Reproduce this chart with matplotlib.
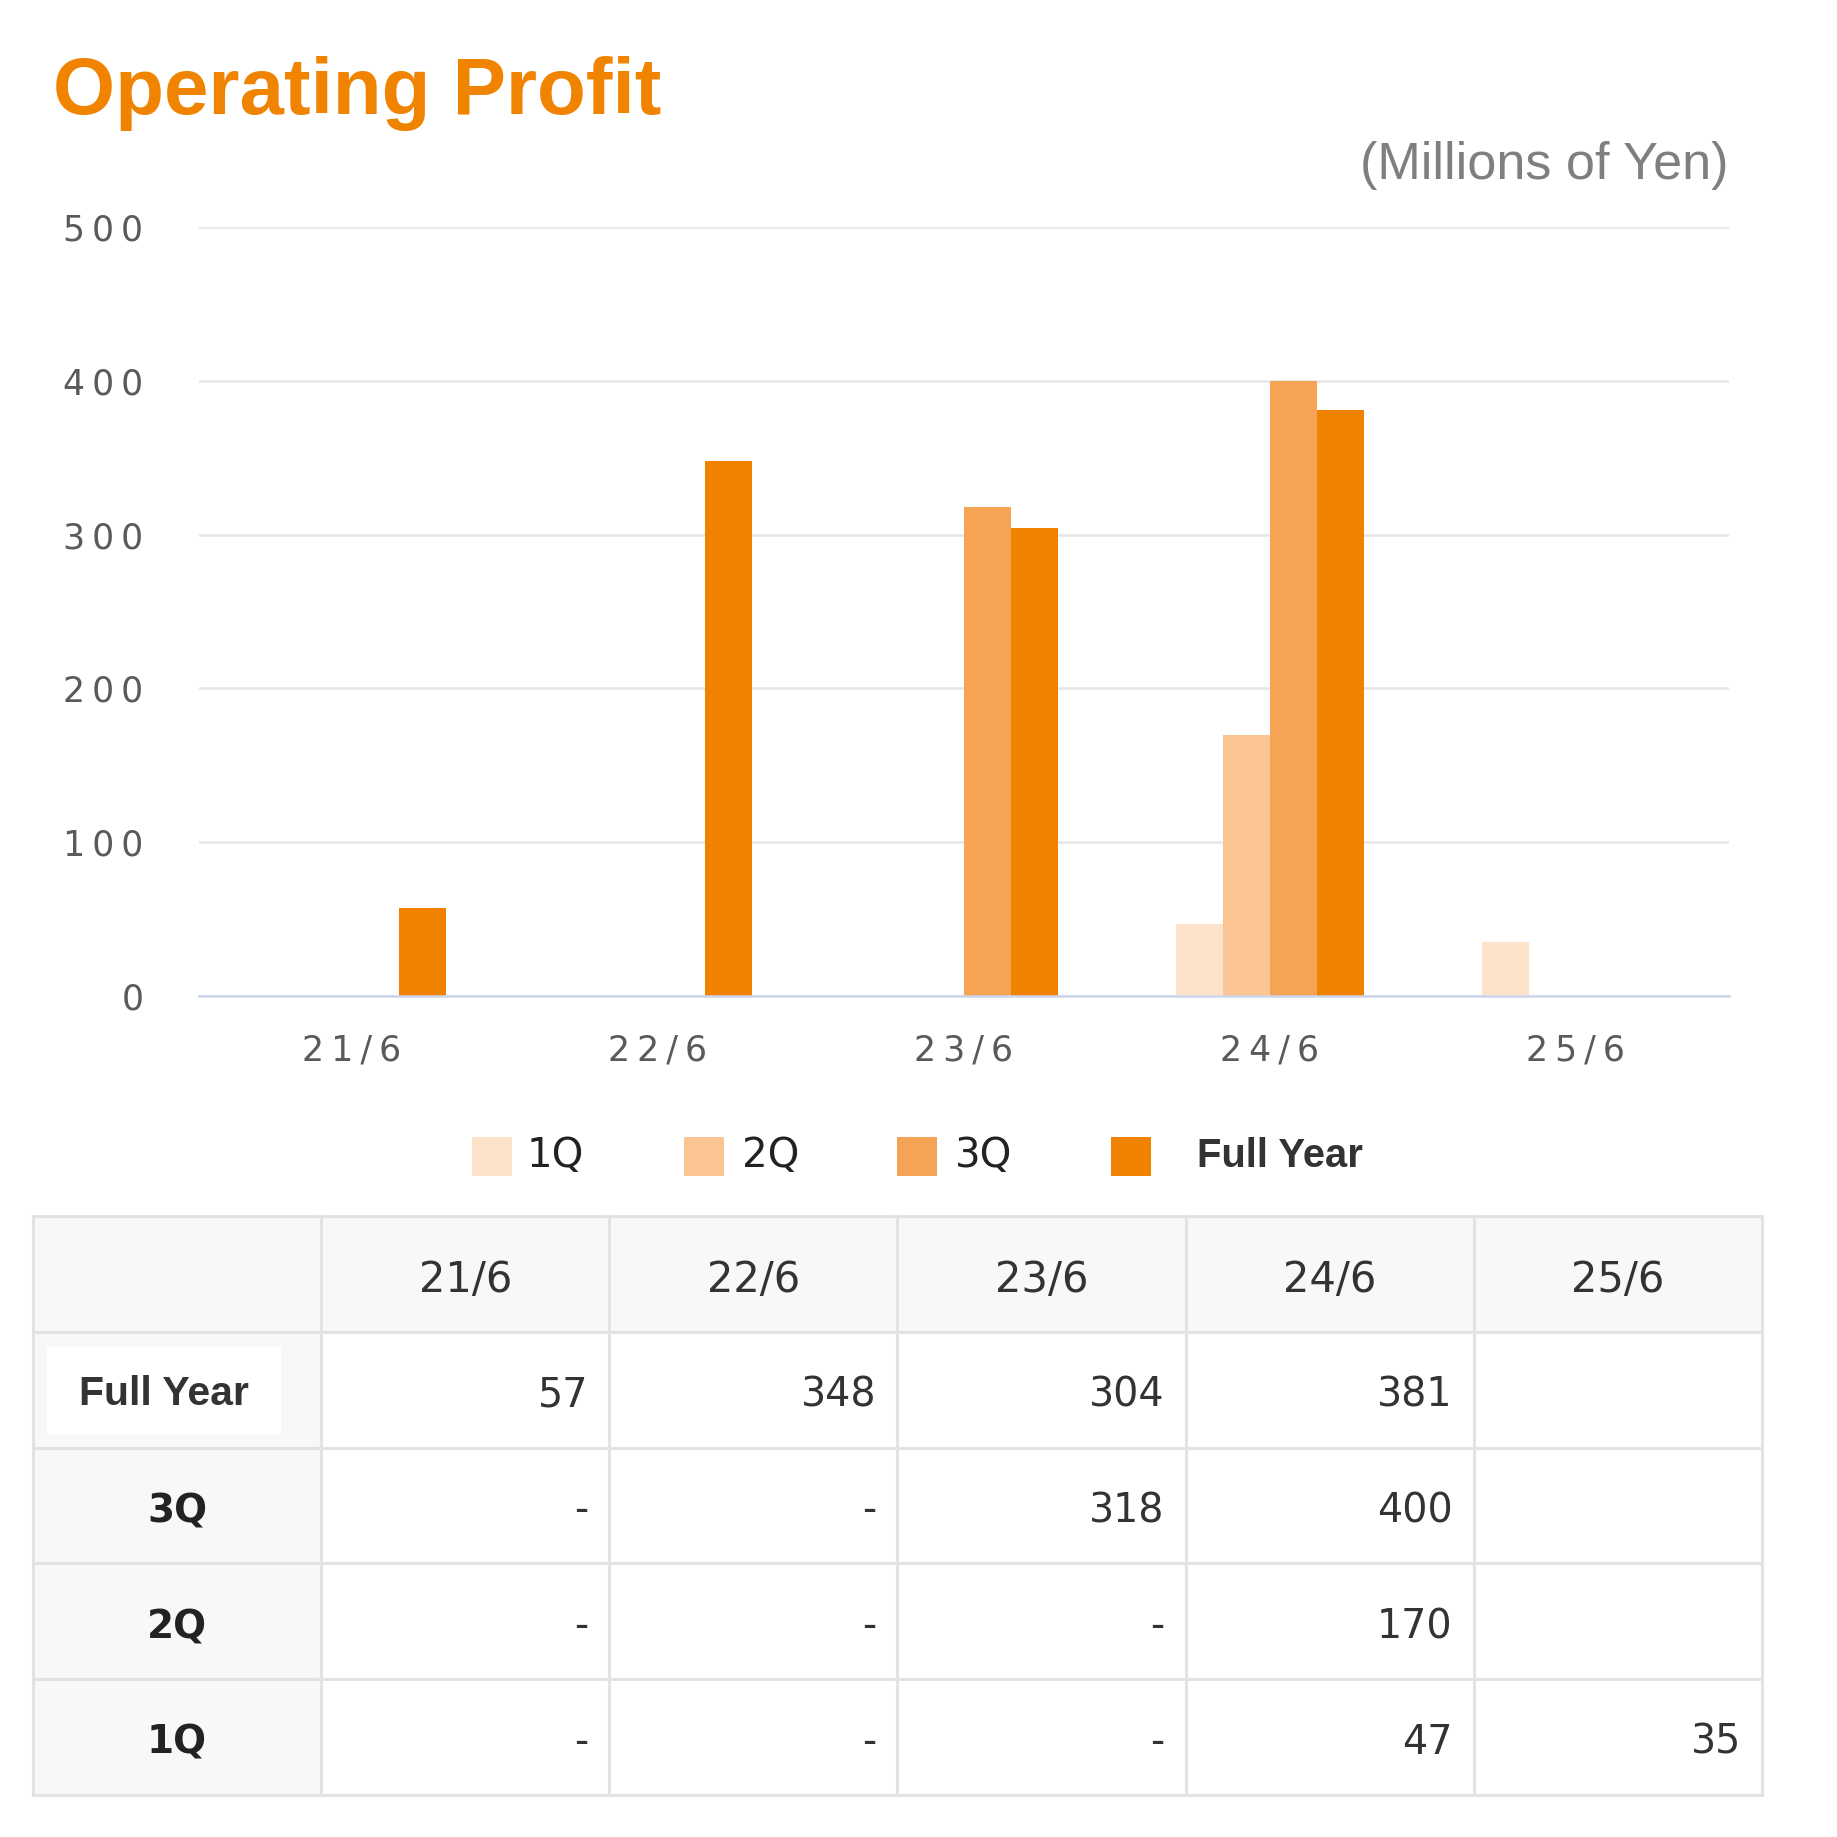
import numpy as np
import matplotlib
matplotlib.use("Agg")
import matplotlib.pyplot as plt
from matplotlib.patches import Rectangle

periods = ['21/6', '22/6', '23/6', '24/6', '25/6']
q1 = [None, None, None, 47, 35]
q2 = [None, None, None, 170, None]
q3 = [None, None, 318, 400, None]
full_year = [57, 348, 304, 381, None]

series_names = ['1Q', '2Q', '3Q', 'Full Year']
series_vals = [q1, q2, q3, full_year]
colors = ['#fde3ca', '#fac592', '#f5a455', '#f08200']

W = H = 1837.0
fig = plt.figure(figsize=(18.37, 18.37), dpi=100)
fig.patch.set_facecolor('white')

def spaced(s):
    # the axis labels are drawn letter-spaced
    return '\u2009'.join(list(s))

#title and unit
fig.text(53 / W, 1 - 114 / H, 'Operating Profit', family='Liberation Sans',
         weight='bold', fontsize=57.5, color='#f08300', va='baseline', ha='left')
fig.text(1729 / W, 1 - 179 / H, '(Millions of Yen)', family='Liberation Sans',
         fontsize=37.5, color='#7f7f7f', va='baseline', ha='right')

#bar chart
ax = fig.add_axes([199 / W, 1 - 996 / H, (1729 - 199) / W, (996 - 227) / H])
x = np.arange(len(periods))
width = 0.153
for i, (name, vals) in enumerate(zip(series_names, series_vals)):
    idx = [j for j, v in enumerate(vals) if v is not None]
    h = [vals[j] for j in idx]
    ax.bar(x[idx] + (i - 1.5) * width, h, width, color=colors[i], linewidth=0, zorder=3)

ax.set_xlim(-0.5, 4.5)
ax.set_ylim(0, 500)
ax.set_yticks(range(0, 501, 100))
ax.set_yticklabels([spaced(str(v)) for v in range(0, 501, 100)])
ax.set_xticks(x)
ax.set_xticklabels([spaced(p) for p in periods])
ax.yaxis.grid(True, color='#e6e6e6', linewidth=1.8)
ax.set_axisbelow(True)
for s in ['top', 'left', 'right']:
    ax.spines[s].set_visible(False)
ax.spines['bottom'].set_color('#ccd6eb')
ax.spines['bottom'].set_linewidth(1.8)
ax.spines['bottom'].set_zorder(4)
ax.tick_params(axis='y', length=0, pad=40, labelsize=25, labelcolor='#5a5a5a')
ax.tick_params(axis='x', length=0, pad=27, labelsize=25, labelcolor='#5a5a5a')
for lab in ax.get_xticklabels() + ax.get_yticklabels():
    lab.set_family('DejaVu Sans')

#legend (drawn by hand to match spacing)
leg_sq_x = [472, 684, 897, 1111]
leg_txt_x = [527, 742, 955, 1197]
for i, name in enumerate(series_names):
    fig.patches.append(Rectangle((leg_sq_x[i] / W, 1 - 1176 / H), 40 / W, 39 / H,
                                 transform=fig.transFigure, facecolor=colors[i],
                                 edgecolor='none'))
    if name == 'Full Year':
        fig.text(leg_txt_x[i] / W, 1 - 1156 / H, name, family='Liberation Sans',
                 weight='bold', fontsize=28.8, color='#333333', va='center', ha='left')
    else:
        fig.text(leg_txt_x[i] / W, 1 - 1156 / H, name, family='DejaVu Sans',
                 fontsize=29, color='#222222', va='center', ha='left')

#table under the chart
tax = fig.add_axes([33 / W, 1 - 1795 / H, 1729 / W, (1795 - 1216) / H])
tax.set_xlim(0, 6)
tax.set_ylim(5, 0)
tax.axis('off')

rows = ['Full Year', '3Q', '2Q', '1Q']
row_vals = [full_year, q3, q2, q1]

for r in range(5):
    for c in range(6):
        fc = '#f8f8f8' if (r == 0 or c == 0) else 'white'
        tax.add_patch(Rectangle((c, r), 1, 1, facecolor=fc, edgecolor='#e3e3e3',
                                linewidth=2.2, clip_on=False))
# white box behind the "Full Year" label
tax.add_patch(Rectangle((0.049, 1.131), 0.812, 0.76, facecolor='white',
                        edgecolor='none', zorder=2))

for c, p in enumerate(periods):
    tax.text(c + 1.5, 0.55, p, ha='center', va='center', fontsize=30,
             family='DejaVu Sans', color='#333333', zorder=3)

last = len(periods) - 1
for r, (name, vals) in enumerate(zip(rows, row_vals)):
    if name == 'Full Year':
        tax.text(0.455, r + 1.54, name, ha='center', va='center', fontsize=29.4,
                 family='Liberation Sans', weight='bold', color='#333333', zorder=3)
    else:
        tax.text(0.5, r + 1.55, name, ha='center', va='center', fontsize=28,
                 family='DejaVu Sans', weight='bold', color='#222222', zorder=3)
    for c, v in enumerate(vals):
        if v is None:
            txt = '' if c == last else '-'
        else:
            txt = str(v)
        tax.text(c + 2 - 0.073, r + 1.55, txt, ha='right', va='center', fontsize=28.5,
                 family='DejaVu Sans', color='#333333', zorder=3)

plt.savefig('out.png', dpi=100, facecolor='white')
